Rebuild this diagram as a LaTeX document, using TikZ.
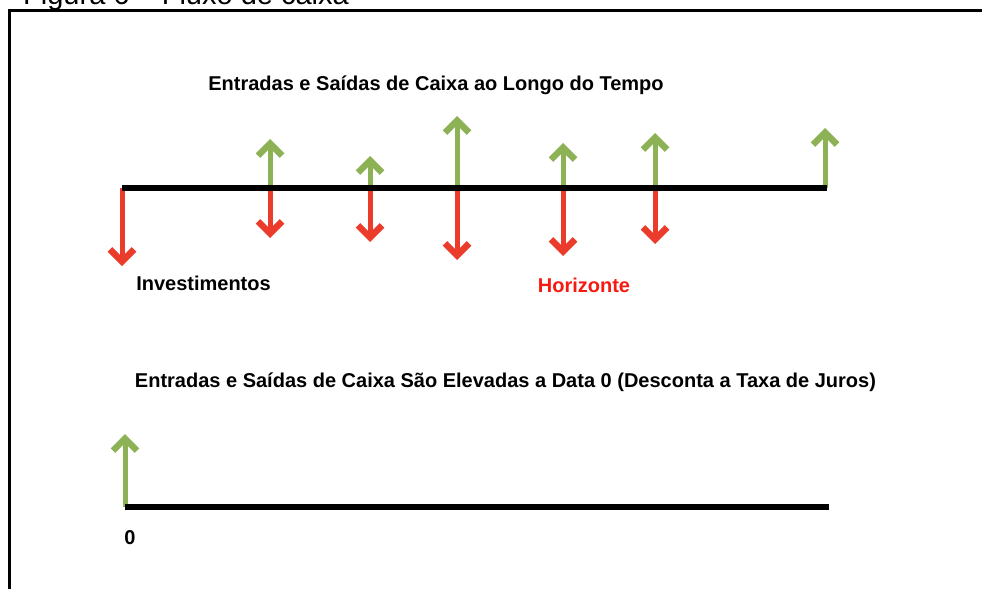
\documentclass[tikz,border=0pt]{standalone}
\usepackage{fontspec}
\setmainfont{Liberation Sans}
\usetikzlibrary{arrows.meta,positioning}
\definecolor{inGreen}{HTML}{8DB255}
\definecolor{outRed}{HTML}{EB3B2B}
\definecolor{labelRed}{HTML}{F51A12}

\begin{document}
\begin{tikzpicture}[x=1pt,y=-1pt]
	%styles
	\tikzstyle{frame} = [line width=3.5pt, black]
	\tikzstyle{axis} = [line width=5.5pt, black]
	\tikzstyle{inflow} = [line width=5pt, draw=inGreen, -{Straight Barb[length=12pt,width=24pt,line width=6.5pt]}]
	\tikzstyle{outflow} = [line width=5pt, draw=outRed, -{Straight Barb[length=12pt,width=24pt,line width=6.5pt]}]
	\tikzstyle{caption} = [inner sep=0pt, font=\fontsize{20}{24}\selectfont\bfseries]
	\useasboundingbox (0,0) rectangle (982,589);
	\clip (0,0) rectangle (982,589);
	%frame
	\node (figTitle) [anchor=base west, inner sep=0pt, font=\fontsize{29}{34}\selectfont] at (23,5) {Figura 6 – Fluxo de caixa};
	\draw [frame] (9.5,589) -- (9.5,10.5) -- (982,10.5);
	%upper flow
	\node (topTitle) [caption] at (436,85) {Entradas e Saídas de Caixa ao Longo do Tempo};
	\coordinate (t0) at (122,188);
	\coordinate (t1) at (270,188);
	\coordinate (t2) at (370,188);
	\coordinate (t3) at (457,188);
	\coordinate (t4) at (563,188);
	\coordinate (t5) at (655,188);
	\coordinate (t6) at (827,188);
	\coordinate (d0) at (122,266);
	\coordinate (u1) at (270,139);
	\coordinate (d1) at (270,238);
	\coordinate (u2) at (370,156);
	\coordinate (d2) at (370,242);
	\coordinate (u3) at (457,116);
	\coordinate (d3) at (457,260);
	\coordinate (u4) at (563,143);
	\coordinate (d4) at (563,256);
	\coordinate (u5) at (655,133);
	\coordinate (d5) at (655,244);
	\coordinate (u6) at (825,128);
	\draw [outflow] (t0) -- (d0);
	\draw [inflow] (t1) -- (u1);
	\draw [outflow] (t1) -- (d1);
	\draw [inflow] (t2) -- (u2);
	\draw [outflow] (t2) -- (d2);
	\draw [inflow] (t3) -- (u3);
	\draw [outflow] (t3) -- (d3);
	\draw [inflow] (t4) -- (u4);
	\draw [outflow] (t4) -- (d4);
	\draw [inflow] (t5) -- (u5);
	\draw [outflow] (t5) -- (d5);
	\draw [inflow] ([xshift=-2pt]t6) -- (u6);
	\draw [axis] (t0) -- (t6);
	\node (investimentos) [caption] at (203.5,283) {Investimentos};
	\node (horizonte) [caption, text=labelRed] at (584,285) {Horizonte};
	%lower flow
	\node (bottomTitle) [caption] at (505.5,382) {Entradas e Saídas de Caixa São Elevadas a Data 0 (Desconta a Taxa de Juros)};
	\coordinate (b0) at (125,507);
	\coordinate (b1) at (829,507);
	\coordinate (v0) at (125,434);
	\draw [inflow] (b0) -- (v0);
	\draw [axis] (b0) -- (b1);
	\node (zero) [caption] at (130,538) {0};
\end{tikzpicture}
\end{document}
